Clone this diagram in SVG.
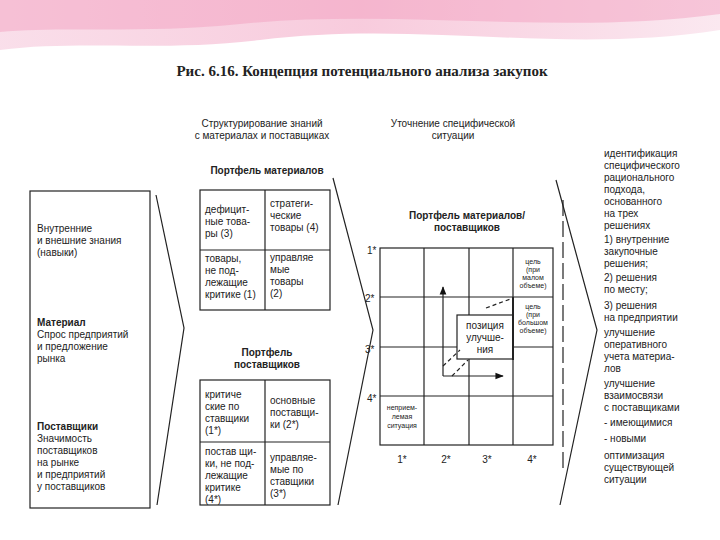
<svg xmlns="http://www.w3.org/2000/svg" width="720" height="540" viewBox="0 0 720 540">
<defs>
<linearGradient id="bn" x1="0" y1="0" x2="1" y2="0">
<stop offset="0" stop-color="#f6c9dc"/><stop offset="0.5" stop-color="#f3a9c6"/><stop offset="1" stop-color="#f8d9e6"/>
</linearGradient>
<marker id="ar" viewBox="0 0 10 10" refX="9" refY="5" markerWidth="7" markerHeight="7" orient="auto"><path d="M0,1 L10,5 L0,9 z" fill="#111"/></marker>
</defs>
<style>
text{font-family:"Liberation Sans",Arial,sans-serif;fill:#222;font-size:10px}
.b{font-weight:bold}
.m{text-anchor:middle}
.s{font-size:7px}
.ln{stroke:#222;stroke-width:1.2;fill:none}
.bx{stroke:#222;stroke-width:1.2;fill:#fff}
</style>
<rect width="720" height="540" fill="#fff"/>
<path d="M0,0 H720 V30 C560,55 420,20 260,40 C160,52 80,40 0,50 Z" fill="url(#bn)" opacity="0.6"/>
<path d="M0,0 H720 V14 C560,36 400,8 240,24 C140,34 60,26 0,32 Z" fill="#f19bbd" opacity="0.45"/>
<text x="362" y="76" class="m b" style="font-family:'Liberation Serif',serif;font-size:15px">Рис. 6.16. Концепция потенциального анализа закупок</text>

<g id="headers">
<text x="262" y="127" class="m">Структурирование знаний</text>
<text x="262" y="139" class="m">с материалах и поставщиках</text>
<text x="453" y="127" class="m">Уточнение специфической</text>
<text x="453" y="139" class="m">ситуации</text>
</g>

<g id="left-box">
<rect x="30" y="191" width="120" height="317" class="bx"/>
<text x="37" y="232">Внутренние</text><text x="37" y="244">и внешние знания</text><text x="37" y="256">(навыки)</text>
<text x="37" y="326" class="b">Материал</text><text x="37" y="338">Спрос предприятий</text><text x="37" y="350">и предложение</text><text x="37" y="362">рынка</text>
<text x="37" y="430" class="b">Поставщики</text><text x="37" y="442">Значимость</text><text x="37" y="454">поставщиков</text><text x="37" y="466">на рынке</text><text x="37" y="478">и предприятий</text><text x="37" y="490">у поставщиков</text>
</g>

<g id="materials-portfolio">
<text x="267" y="174" class="m b">Портфель материалов</text>
<rect x="200" y="190" width="130" height="120" class="bx"/>
<line x1="265" y1="190" x2="265" y2="310" class="ln"/><line x1="200" y1="250" x2="330" y2="250" class="ln"/>
<text x="205" y="213">дефицит-</text><text x="205" y="225">ные това-</text><text x="205" y="237">ры (3)</text>
<text x="270" y="207">стратеги-</text><text x="270" y="219">ческие</text><text x="270" y="231">товары (4)</text>
<text x="205" y="262">товары,</text><text x="205" y="274">не под-</text><text x="205" y="286">лежащие</text><text x="205" y="298">критике (1)</text>
<text x="270" y="261">управляе</text><text x="270" y="273">мые</text><text x="270" y="285">товары</text><text x="270" y="297">(2)</text>
</g>

<g id="suppliers-portfolio">
<text x="267" y="356" class="m b">Портфель</text><text x="267" y="368" class="m b">поставщиков</text>
<rect x="200" y="380" width="130" height="125" class="bx"/>
<line x1="265" y1="380" x2="265" y2="505" class="ln"/><line x1="200" y1="442" x2="330" y2="442" class="ln"/>
<text x="205" y="398">критиче</text><text x="205" y="410">ские по</text><text x="205" y="422">ставщики</text><text x="205" y="434">(1*)</text>
<text x="270" y="404">основные</text><text x="270" y="416">поставщи-</text><text x="270" y="428">ки (2*)</text>
<text x="205" y="455">постав щи-</text><text x="205" y="467">ки, не под-</text><text x="205" y="479">лежащие</text><text x="205" y="491">критике</text><text x="205" y="503">(4*)</text>
<text x="270" y="461">управляе-</text><text x="270" y="473">мые по</text><text x="270" y="485">ставщики</text><text x="270" y="497">(3*)</text>
</g>

<g id="matrix">
<text x="467" y="219" class="m b">Портфель материалов/</text><text x="467" y="231" class="m b">поставщиков</text>
<rect x="380" y="248" width="173" height="197" class="bx"/>
<g class="ln"><line x1="424" y1="248" x2="424" y2="445"/><line x1="469" y1="248" x2="469" y2="445"/><line x1="513" y1="248" x2="513" y2="445"/>
<line x1="380" y1="297" x2="553" y2="297"/><line x1="380" y1="347" x2="553" y2="347"/><line x1="380" y1="396" x2="553" y2="396"/></g>
<text x="367" y="254">1*</text><text x="365" y="302">2*</text><text x="365" y="353">3*</text><text x="367" y="402">4*</text>
<text x="402" y="463" class="m">1*</text><text x="446" y="463" class="m">2*</text><text x="487" y="463" class="m">3*</text><text x="532" y="463" class="m">4*</text>
<text x="533" y="264" class="m s">цель</text><text x="533" y="272" class="m s">(при</text><text x="533" y="280" class="m s">малом</text><text x="533" y="288" class="m s">объеме)</text>
<text x="533" y="309" class="m s">цель</text><text x="533" y="317" class="m s">(при</text><text x="533" y="325" class="m s">большом</text><text x="533" y="333" class="m s">объеме)</text>
<text x="402" y="410" class="m s">неприем-</text><text x="402" y="419" class="m s">лемая</text><text x="402" y="428" class="m s">ситуация</text>
</g>

<g id="improvement">
<rect x="457" y="315" width="56" height="44" class="bx"/>
<text x="485" y="329" class="m">позиция</text><text x="485" y="341" class="m">улучше-</text><text x="485" y="353" class="m">ния</text>
</g>

<g id="connectors">
<line x1="443" y1="376" x2="443" y2="287" class="ln" marker-end="url(#ar)"/>
<line x1="443" y1="376" x2="503" y2="376" class="ln" marker-end="url(#ar)"/>
<g class="ln" stroke-dasharray="4,3" stroke-width="1">
<line x1="443" y1="366" x2="460" y2="350"/><line x1="452" y1="376" x2="468" y2="360"/><line x1="486" y1="308" x2="513" y2="298"/></g>
<line x1="513" y1="297" x2="513" y2="360" stroke="#222" stroke-width="2"/>
<polyline points="156,195 184,328 157,505" class="ln"/>
<polyline points="333,178 373,330 338,505" class="ln"/>
<polyline points="556,180 597,330 560,505" class="ln"/>
<line x1="563" y1="200" x2="563" y2="470" class="ln" stroke-dasharray="16,5"/>
</g>

<g id="right-text">
<text x="604" y="157">идентификация</text><text x="604" y="169">специфического</text><text x="604" y="181">рационального</text><text x="604" y="193">подхода,</text><text x="604" y="205">основанного</text><text x="604" y="217">на трех</text><text x="604" y="229">решениях</text>
<text x="604" y="243">1) внутренние</text><text x="604" y="255">закупочные</text><text x="604" y="267">решения;</text>
<text x="604" y="281">2) решения</text><text x="604" y="293">по месту;</text>
<text x="604" y="309">3) решения</text><text x="604" y="321">на предприятии</text>
<text x="604" y="336">улучшение</text><text x="604" y="348">оперативного</text><text x="604" y="360">учета материа-</text><text x="604" y="372">лов</text>
<text x="604" y="387">улучшение</text><text x="604" y="399">взаимосвязи</text><text x="604" y="411">с поставщиками</text>
<text x="604" y="426">- имеющимися</text><text x="604" y="442">- новыми</text>
<text x="604" y="459">оптимизация</text><text x="604" y="471">существующей</text><text x="604" y="483">ситуации</text>
</g>
</svg>
